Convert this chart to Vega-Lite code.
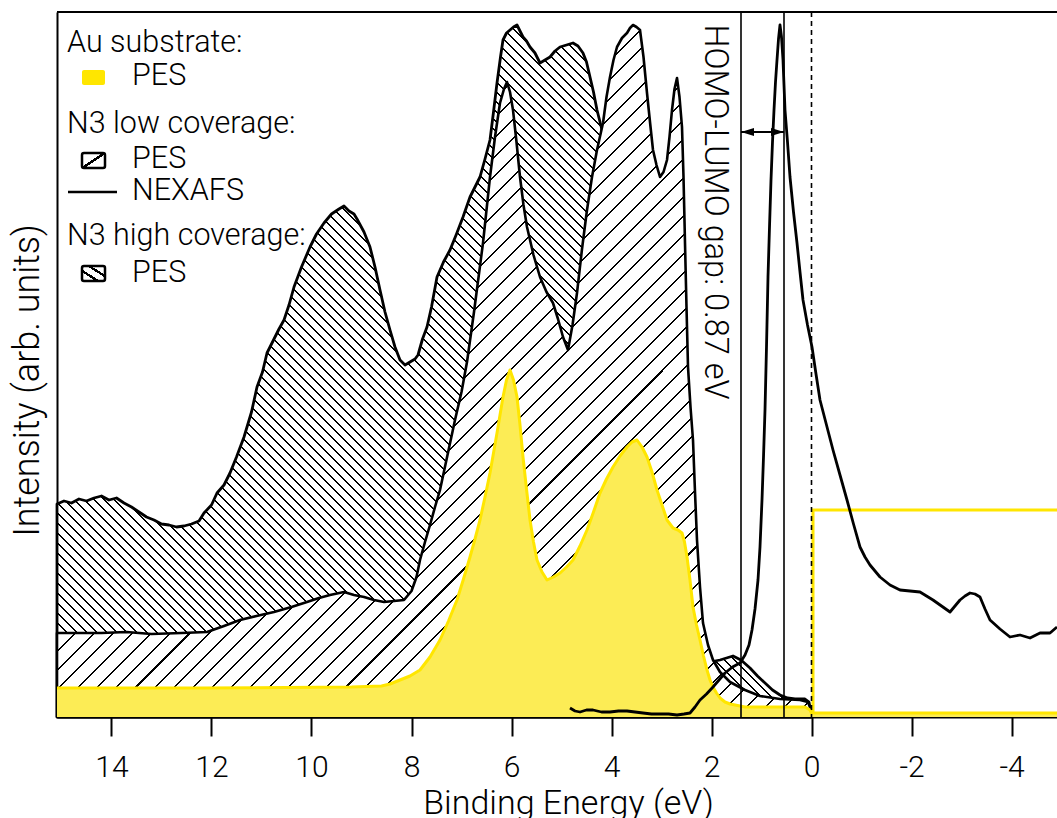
{
"$schema":"https://vega.github.io/schema/vega-lite/v6.json",
"width":1000,"height":705,
"autosize":{"type":"none"},
"padding":{"left":57,"top":12,"right":0,"bottom":101},
"background":"white",
"config":{"view":{"stroke":null},"font":"Roboto","axis":{"zindex":1}},
"datasets":{
"high":[{"E":15.09,"V":213},{"E":14.95,"V":216},{"E":14.8,"V":214},{"E":14.65,"V":218},{"E":14.5,"V":216},{"E":14.35,"V":219},{"E":14.2,"V":221},{"E":14.05,"V":217},{"E":13.9,"V":219},{"E":13.75,"V":214},{"E":13.6,"V":210},{"E":13.45,"V":205},{"E":13.3,"V":200},{"E":13.15,"V":197},{"E":13.0,"V":193},{"E":12.85,"V":192},{"E":12.7,"V":190},{"E":12.55,"V":191},{"E":12.4,"V":193},{"E":12.25,"V":196},{"E":12.15,"V":204},{"E":12.0,"V":212},{"E":11.89,"V":224},{"E":11.75,"V":232},{"E":11.63,"V":244},{"E":11.5,"V":260},{"E":11.35,"V":280},{"E":11.2,"V":305},{"E":11.09,"V":330},{"E":10.98,"V":345},{"E":10.89,"V":364},{"E":10.75,"V":378},{"E":10.65,"V":388},{"E":10.55,"V":397},{"E":10.45,"V":412},{"E":10.35,"V":430},{"E":10.2,"V":450},{"E":10.03,"V":470},{"E":9.9,"V":483},{"E":9.75,"V":494},{"E":9.6,"V":503},{"E":9.45,"V":508},{"E":9.35,"V":511},{"E":9.25,"V":506},{"E":9.15,"V":503},{"E":9.09,"V":498},{"E":8.95,"V":485},{"E":8.83,"V":470},{"E":8.73,"V":450},{"E":8.63,"V":427},{"E":8.53,"V":405},{"E":8.43,"V":387},{"E":8.33,"V":370},{"E":8.23,"V":357},{"E":8.13,"V":352},{"E":8.03,"V":355},{"E":7.93,"V":358},{"E":7.87,"V":362},{"E":7.78,"V":378},{"E":7.69,"V":390},{"E":7.6,"V":410},{"E":7.49,"V":440},{"E":7.36,"V":455},{"E":7.23,"V":467},{"E":7.1,"V":483},{"E":6.97,"V":500},{"E":6.83,"V":520},{"E":6.73,"V":530},{"E":6.63,"V":540},{"E":6.53,"V":558},{"E":6.43,"V":577},{"E":6.36,"V":605},{"E":6.29,"V":634},{"E":6.22,"V":660},{"E":6.17,"V":677},{"E":6.1,"V":684},{"E":6.03,"V":687},{"E":5.96,"V":690},{"E":5.89,"V":692},{"E":5.83,"V":686},{"E":5.77,"V":680},{"E":5.7,"V":676},{"E":5.63,"V":670},{"E":5.53,"V":664},{"E":5.43,"V":654},{"E":5.33,"V":657},{"E":5.23,"V":660},{"E":5.13,"V":666},{"E":5.03,"V":670},{"E":4.9,"V":672},{"E":4.77,"V":674},{"E":4.67,"V":671},{"E":4.57,"V":664},{"E":4.5,"V":655},{"E":4.43,"V":640},{"E":4.36,"V":625},{"E":4.29,"V":607},{"E":4.19,"V":587},{"E":4.03,"V":517},{"E":3.63,"V":417},{"E":3.03,"V":337},{"E":2.63,"V":267},{"E":2.43,"V":167},{"E":2.23,"V":77},{"E":2.03,"V":53},{"E":1.93,"V":56},{"E":1.83,"V":57},{"E":1.7,"V":59},{"E":1.57,"V":61},{"E":1.41,"V":57},{"E":1.23,"V":49},{"E":1.08,"V":41},{"E":0.93,"V":34},{"E":0.78,"V":27},{"E":0.63,"V":22},{"E":0.48,"V":19},{"E":0.33,"V":18},{"E":0.13,"V":18},{"E":0.05,"V":15},{"E":0.0,"V":0}],
"low":[{"E":15.09,"V":84},{"E":14.6,"V":84},{"E":14.2,"V":84},{"E":13.7,"V":85},{"E":13.2,"V":83},{"E":12.6,"V":84},{"E":12.09,"V":85},{"E":11.75,"V":91},{"E":11.43,"V":97},{"E":11.1,"V":101},{"E":10.75,"V":105},{"E":10.4,"V":110},{"E":10.09,"V":115},{"E":9.85,"V":119},{"E":9.63,"V":122},{"E":9.35,"V":125},{"E":9.15,"V":122},{"E":8.95,"V":120},{"E":8.75,"V":117},{"E":8.55,"V":115},{"E":8.35,"V":116},{"E":8.15,"V":117},{"E":8.0,"V":126},{"E":7.9,"V":140},{"E":7.83,"V":157},{"E":7.73,"V":175},{"E":7.63,"V":192},{"E":7.53,"V":210},{"E":7.43,"V":227},{"E":7.28,"V":262},{"E":7.13,"V":297},{"E":7.0,"V":325},{"E":6.89,"V":355},{"E":6.75,"V":405},{"E":6.57,"V":474},{"E":6.43,"V":540},{"E":6.33,"V":580},{"E":6.23,"V":614},{"E":6.15,"V":628},{"E":6.09,"V":635},{"E":6.03,"V":625},{"E":5.97,"V":607},{"E":5.9,"V":575},{"E":5.83,"V":540},{"E":5.76,"V":512},{"E":5.69,"V":490},{"E":5.56,"V":462},{"E":5.43,"V":440},{"E":5.3,"V":425},{"E":5.17,"V":414},{"E":5.07,"V":398},{"E":4.97,"V":380},{"E":4.87,"V":367},{"E":4.78,"V":392},{"E":4.69,"V":424},{"E":4.59,"V":468},{"E":4.49,"V":507},{"E":4.39,"V":540},{"E":4.29,"V":567},{"E":4.17,"V":594},{"E":4.1,"V":620},{"E":4.03,"V":640},{"E":3.96,"V":657},{"E":3.89,"V":670},{"E":3.79,"V":679},{"E":3.69,"V":684},{"E":3.63,"V":689},{"E":3.57,"V":692},{"E":3.5,"V":690},{"E":3.43,"V":687},{"E":3.36,"V":660},{"E":3.29,"V":624},{"E":3.23,"V":595},{"E":3.17,"V":567},{"E":3.1,"V":552},{"E":3.03,"V":540},{"E":2.96,"V":545},{"E":2.89,"V":557},{"E":2.84,"V":580},{"E":2.79,"V":607},{"E":2.74,"V":628},{"E":2.69,"V":639},{"E":2.64,"V":620},{"E":2.59,"V":590},{"E":2.56,"V":540},{"E":2.53,"V":474},{"E":2.5,"V":410},{"E":2.47,"V":350},{"E":2.42,"V":310},{"E":2.37,"V":277},{"E":2.33,"V":225},{"E":2.29,"V":177},{"E":2.23,"V":130},{"E":2.17,"V":94},{"E":2.07,"V":72},{"E":1.97,"V":57},{"E":1.83,"V":45},{"E":1.63,"V":35},{"E":1.33,"V":27},{"E":1.03,"V":21},{"E":0.63,"V":18},{"E":0.23,"V":17},{"E":0.07,"V":15},{"E":0.01,"V":7},{"E":0.0,"V":0}],
"au":[{"E":15.09,"V":29},{"E":12.2,"V":29},{"E":9.2,"V":30},{"E":8.6,"V":31},{"E":8.43,"V":33},{"E":8.23,"V":37},{"E":8.03,"V":41},{"E":7.83,"V":47},{"E":7.63,"V":60},{"E":7.43,"V":77},{"E":7.26,"V":96},{"E":7.09,"V":117},{"E":6.96,"V":138},{"E":6.83,"V":160},{"E":6.73,"V":178},{"E":6.63,"V":197},{"E":6.53,"V":220},{"E":6.43,"V":244},{"E":6.36,"V":264},{"E":6.29,"V":284},{"E":6.23,"V":302},{"E":6.17,"V":320},{"E":6.1,"V":337},{"E":6.03,"V":347},{"E":5.96,"V":337},{"E":5.89,"V":320},{"E":5.83,"V":292},{"E":5.77,"V":260},{"E":5.7,"V":228},{"E":5.63,"V":197},{"E":5.56,"V":175},{"E":5.49,"V":157},{"E":5.39,"V":145},{"E":5.29,"V":137},{"E":5.16,"V":140},{"E":5.03,"V":144},{"E":4.9,"V":150},{"E":4.77,"V":157},{"E":4.63,"V":171},{"E":4.49,"V":187},{"E":4.36,"V":205},{"E":4.23,"V":224},{"E":4.1,"V":238},{"E":3.97,"V":250},{"E":3.83,"V":261},{"E":3.69,"V":270},{"E":3.59,"V":275},{"E":3.49,"V":277},{"E":3.39,"V":270},{"E":3.29,"V":260},{"E":3.19,"V":245},{"E":3.09,"V":227},{"E":2.99,"V":212},{"E":2.89,"V":197},{"E":2.77,"V":189},{"E":2.67,"V":187},{"E":2.59,"V":184},{"E":2.54,"V":175},{"E":2.49,"V":160},{"E":2.43,"V":137},{"E":2.37,"V":110},{"E":2.3,"V":92},{"E":2.23,"V":77},{"E":2.16,"V":61},{"E":2.09,"V":47},{"E":2.03,"V":37},{"E":1.97,"V":30},{"E":1.9,"V":24},{"E":1.83,"V":19},{"E":1.73,"V":15},{"E":1.63,"V":13},{"E":1.33,"V":10},{"E":0.63,"V":10},{"E":0.13,"V":10},{"E":0.03,"V":7},{"E":0.0,"V":4},{"E":-4.91,"V":4}],
"step":[{"E":-0.03,"V":4,"o":1},{"E":-0.03,"V":207,"o":2},{"E":-4.91,"V":207,"o":3}],
"nexafs":[{"E":4.83,"V":9},{"E":4.73,"V":6},{"E":4.63,"V":5},{"E":4.5,"V":7},{"E":4.37,"V":7},{"E":4.2,"V":5},{"E":4.03,"V":5},{"E":3.86,"V":6},{"E":3.69,"V":6},{"E":3.53,"V":5},{"E":3.37,"V":4},{"E":3.2,"V":3},{"E":3.03,"V":3},{"E":2.86,"V":3},{"E":2.69,"V":2},{"E":2.55,"V":3},{"E":2.43,"V":4},{"E":2.33,"V":10},{"E":2.23,"V":17},{"E":2.1,"V":23},{"E":1.97,"V":30},{"E":1.85,"V":37},{"E":1.73,"V":44},{"E":1.58,"V":50},{"E":1.43,"V":54},{"E":1.33,"V":62},{"E":1.25,"V":72},{"E":1.19,"V":87},{"E":1.13,"V":108},{"E":1.07,"V":137},{"E":1.03,"V":170},{"E":0.99,"V":217},{"E":0.96,"V":260},{"E":0.93,"V":307},{"E":0.9,"V":370},{"E":0.87,"V":440},{"E":0.84,"V":490},{"E":0.81,"V":537},{"E":0.78,"V":575},{"E":0.75,"V":607},{"E":0.72,"V":635},{"E":0.69,"V":657},{"E":0.66,"V":678},{"E":0.63,"V":692},{"E":0.6,"V":680},{"E":0.57,"V":657},{"E":0.53,"V":607},{"E":0.48,"V":575},{"E":0.43,"V":540},{"E":0.36,"V":505},{"E":0.29,"V":474},{"E":0.23,"V":445},{"E":0.17,"V":417},{"E":0.08,"V":392},{"E":-0.01,"V":370},{"E":-0.09,"V":343},{"E":-0.17,"V":317},{"E":-0.3,"V":292},{"E":-0.43,"V":267},{"E":-0.57,"V":242},{"E":-0.71,"V":217},{"E":-0.84,"V":193},{"E":-0.97,"V":170},{"E":-1.07,"V":160},{"E":-1.17,"V":152},{"E":-1.27,"V":146},{"E":-1.37,"V":140},{"E":-1.57,"V":132},{"E":-1.77,"V":127},{"E":-1.97,"V":126},{"E":-2.17,"V":125},{"E":-2.3,"V":121},{"E":-2.43,"V":117},{"E":-2.6,"V":111},{"E":-2.77,"V":105},{"E":-2.87,"V":111},{"E":-2.97,"V":117},{"E":-3.07,"V":121},{"E":-3.17,"V":124},{"E":-3.27,"V":123},{"E":-3.37,"V":120},{"E":-3.47,"V":108},{"E":-3.57,"V":97},{"E":-3.77,"V":88},{"E":-3.97,"V":80},{"E":-4.17,"V":82},{"E":-4.37,"V":79},{"E":-4.57,"V":84},{"E":-4.77,"V":84},{"E":-4.91,"V":90}],
"vlines":[{"E":1.41},{"E":0.55}],
"fermi":[{"E":0}],
"arrow":[{"E":1.41,"E2":0.55,"V":585}],
"headL":[{"E":1.41,"V":585}],
"headR":[{"E":0.55,"V":585}],
"note":[{"E":2.13,"V":505,"t":"HOMO-LUMO gap: 0.87 eV"}],
"legend":[{"E":14.89,"V":665,"t":"Au substrate:"},{"E":13.59,"V":632,"t":"PES"},{"E":14.89,"V":584,"t":"N3 low coverage:"},{"E":13.59,"V":549,"t":"PES"},{"E":13.59,"V":517,"t":"NEXAFS"},{"E":14.89,"V":472,"t":"N3 high coverage:"},{"E":13.59,"V":435,"t":"PES"}],
"swAu":[{"E":14.59,"E2":14.13,"V":632,"V2":647}],
"swLow":[{"E":14.59,"E2":14.13,"V":549,"V2":564}],
"swHigh":[{"E":14.59,"E2":14.13,"V":436,"V2":451}],
"legLine":[{"E":14.87,"E2":13.89,"V":525}],
"frame":[{"V":705}]
},
"layer":[
{"data":{"name":"high"},
 "mark":{"type":"area","stroke":"black","strokeWidth":2.8,"strokeJoin":"round",
  "fill":{"gradient":"linear","x1":0,"y1":1,"x2":1.0412,"y2":0.0451,"stops":[
{"offset":0,"color":"#fff"},
{"offset":0.0580,"color":"#fff"},{"offset":0.0580,"color":"#000"},{"offset":0.0593,"color":"#000"},{"offset":0.0593,"color":"#fff"},
{"offset":0.0649,"color":"#fff"},{"offset":0.0649,"color":"#000"},{"offset":0.0662,"color":"#000"},{"offset":0.0662,"color":"#fff"},
{"offset":0.0718,"color":"#fff"},{"offset":0.0718,"color":"#000"},{"offset":0.0731,"color":"#000"},{"offset":0.0731,"color":"#fff"},
{"offset":0.0787,"color":"#fff"},{"offset":0.0787,"color":"#000"},{"offset":0.0800,"color":"#000"},{"offset":0.0800,"color":"#fff"},
{"offset":0.0856,"color":"#fff"},{"offset":0.0856,"color":"#000"},{"offset":0.0869,"color":"#000"},{"offset":0.0869,"color":"#fff"},
{"offset":0.0926,"color":"#fff"},{"offset":0.0926,"color":"#000"},{"offset":0.0939,"color":"#000"},{"offset":0.0939,"color":"#fff"},
{"offset":0.0995,"color":"#fff"},{"offset":0.0995,"color":"#000"},{"offset":0.1008,"color":"#000"},{"offset":0.1008,"color":"#fff"},
{"offset":0.1064,"color":"#fff"},{"offset":0.1064,"color":"#000"},{"offset":0.1077,"color":"#000"},{"offset":0.1077,"color":"#fff"},
{"offset":0.1133,"color":"#fff"},{"offset":0.1133,"color":"#000"},{"offset":0.1146,"color":"#000"},{"offset":0.1146,"color":"#fff"},
{"offset":0.1202,"color":"#fff"},{"offset":0.1202,"color":"#000"},{"offset":0.1215,"color":"#000"},{"offset":0.1215,"color":"#fff"},
{"offset":0.1271,"color":"#fff"},{"offset":0.1271,"color":"#000"},{"offset":0.1284,"color":"#000"},{"offset":0.1284,"color":"#fff"},
{"offset":0.1340,"color":"#fff"},{"offset":0.1340,"color":"#000"},{"offset":0.1353,"color":"#000"},{"offset":0.1353,"color":"#fff"},
{"offset":0.1409,"color":"#fff"},{"offset":0.1409,"color":"#000"},{"offset":0.1422,"color":"#000"},{"offset":0.1422,"color":"#fff"},
{"offset":0.1478,"color":"#fff"},{"offset":0.1478,"color":"#000"},{"offset":0.1491,"color":"#000"},{"offset":0.1491,"color":"#fff"},
{"offset":0.1547,"color":"#fff"},{"offset":0.1547,"color":"#000"},{"offset":0.1560,"color":"#000"},{"offset":0.1560,"color":"#fff"},
{"offset":0.1617,"color":"#fff"},{"offset":0.1617,"color":"#000"},{"offset":0.1630,"color":"#000"},{"offset":0.1630,"color":"#fff"},
{"offset":0.1686,"color":"#fff"},{"offset":0.1686,"color":"#000"},{"offset":0.1699,"color":"#000"},{"offset":0.1699,"color":"#fff"},
{"offset":0.1755,"color":"#fff"},{"offset":0.1755,"color":"#000"},{"offset":0.1768,"color":"#000"},{"offset":0.1768,"color":"#fff"},
{"offset":0.1824,"color":"#fff"},{"offset":0.1824,"color":"#000"},{"offset":0.1837,"color":"#000"},{"offset":0.1837,"color":"#fff"},
{"offset":0.1893,"color":"#fff"},{"offset":0.1893,"color":"#000"},{"offset":0.1906,"color":"#000"},{"offset":0.1906,"color":"#fff"},
{"offset":0.1962,"color":"#fff"},{"offset":0.1962,"color":"#000"},{"offset":0.1975,"color":"#000"},{"offset":0.1975,"color":"#fff"},
{"offset":0.2031,"color":"#fff"},{"offset":0.2031,"color":"#000"},{"offset":0.2044,"color":"#000"},{"offset":0.2044,"color":"#fff"},
{"offset":0.2100,"color":"#fff"},{"offset":0.2100,"color":"#000"},{"offset":0.2113,"color":"#000"},{"offset":0.2113,"color":"#fff"},
{"offset":0.2169,"color":"#fff"},{"offset":0.2169,"color":"#000"},{"offset":0.2182,"color":"#000"},{"offset":0.2182,"color":"#fff"},
{"offset":0.2238,"color":"#fff"},{"offset":0.2238,"color":"#000"},{"offset":0.2251,"color":"#000"},{"offset":0.2251,"color":"#fff"},
{"offset":0.2308,"color":"#fff"},{"offset":0.2308,"color":"#000"},{"offset":0.2321,"color":"#000"},{"offset":0.2321,"color":"#fff"},
{"offset":0.2377,"color":"#fff"},{"offset":0.2377,"color":"#000"},{"offset":0.2390,"color":"#000"},{"offset":0.2390,"color":"#fff"},
{"offset":0.2446,"color":"#fff"},{"offset":0.2446,"color":"#000"},{"offset":0.2459,"color":"#000"},{"offset":0.2459,"color":"#fff"},
{"offset":0.2515,"color":"#fff"},{"offset":0.2515,"color":"#000"},{"offset":0.2528,"color":"#000"},{"offset":0.2528,"color":"#fff"},
{"offset":0.2584,"color":"#fff"},{"offset":0.2584,"color":"#000"},{"offset":0.2597,"color":"#000"},{"offset":0.2597,"color":"#fff"},
{"offset":0.2653,"color":"#fff"},{"offset":0.2653,"color":"#000"},{"offset":0.2666,"color":"#000"},{"offset":0.2666,"color":"#fff"},
{"offset":0.2722,"color":"#fff"},{"offset":0.2722,"color":"#000"},{"offset":0.2735,"color":"#000"},{"offset":0.2735,"color":"#fff"},
{"offset":0.2791,"color":"#fff"},{"offset":0.2791,"color":"#000"},{"offset":0.2804,"color":"#000"},{"offset":0.2804,"color":"#fff"},
{"offset":0.2860,"color":"#fff"},{"offset":0.2860,"color":"#000"},{"offset":0.2873,"color":"#000"},{"offset":0.2873,"color":"#fff"},
{"offset":0.2929,"color":"#fff"},{"offset":0.2929,"color":"#000"},{"offset":0.2942,"color":"#000"},{"offset":0.2942,"color":"#fff"},
{"offset":0.2999,"color":"#fff"},{"offset":0.2999,"color":"#000"},{"offset":0.3012,"color":"#000"},{"offset":0.3012,"color":"#fff"},
{"offset":0.3068,"color":"#fff"},{"offset":0.3068,"color":"#000"},{"offset":0.3081,"color":"#000"},{"offset":0.3081,"color":"#fff"},
{"offset":0.3137,"color":"#fff"},{"offset":0.3137,"color":"#000"},{"offset":0.3150,"color":"#000"},{"offset":0.3150,"color":"#fff"},
{"offset":0.3206,"color":"#fff"},{"offset":0.3206,"color":"#000"},{"offset":0.3219,"color":"#000"},{"offset":0.3219,"color":"#fff"},
{"offset":0.3275,"color":"#fff"},{"offset":0.3275,"color":"#000"},{"offset":0.3288,"color":"#000"},{"offset":0.3288,"color":"#fff"},
{"offset":0.3344,"color":"#fff"},{"offset":0.3344,"color":"#000"},{"offset":0.3357,"color":"#000"},{"offset":0.3357,"color":"#fff"},
{"offset":0.3413,"color":"#fff"},{"offset":0.3413,"color":"#000"},{"offset":0.3426,"color":"#000"},{"offset":0.3426,"color":"#fff"},
{"offset":0.3482,"color":"#fff"},{"offset":0.3482,"color":"#000"},{"offset":0.3495,"color":"#000"},{"offset":0.3495,"color":"#fff"},
{"offset":0.3551,"color":"#fff"},{"offset":0.3551,"color":"#000"},{"offset":0.3564,"color":"#000"},{"offset":0.3564,"color":"#fff"},
{"offset":0.3620,"color":"#fff"},{"offset":0.3620,"color":"#000"},{"offset":0.3633,"color":"#000"},{"offset":0.3633,"color":"#fff"},
{"offset":0.3690,"color":"#fff"},{"offset":0.3690,"color":"#000"},{"offset":0.3703,"color":"#000"},{"offset":0.3703,"color":"#fff"},
{"offset":0.3759,"color":"#fff"},{"offset":0.3759,"color":"#000"},{"offset":0.3772,"color":"#000"},{"offset":0.3772,"color":"#fff"},
{"offset":0.3828,"color":"#fff"},{"offset":0.3828,"color":"#000"},{"offset":0.3841,"color":"#000"},{"offset":0.3841,"color":"#fff"},
{"offset":0.3897,"color":"#fff"},{"offset":0.3897,"color":"#000"},{"offset":0.3910,"color":"#000"},{"offset":0.3910,"color":"#fff"},
{"offset":0.3966,"color":"#fff"},{"offset":0.3966,"color":"#000"},{"offset":0.3979,"color":"#000"},{"offset":0.3979,"color":"#fff"},
{"offset":0.4035,"color":"#fff"},{"offset":0.4035,"color":"#000"},{"offset":0.4048,"color":"#000"},{"offset":0.4048,"color":"#fff"},
{"offset":0.4104,"color":"#fff"},{"offset":0.4104,"color":"#000"},{"offset":0.4117,"color":"#000"},{"offset":0.4117,"color":"#fff"},
{"offset":0.4173,"color":"#fff"},{"offset":0.4173,"color":"#000"},{"offset":0.4186,"color":"#000"},{"offset":0.4186,"color":"#fff"},
{"offset":0.4242,"color":"#fff"},{"offset":0.4242,"color":"#000"},{"offset":0.4255,"color":"#000"},{"offset":0.4255,"color":"#fff"},
{"offset":0.4311,"color":"#fff"},{"offset":0.4311,"color":"#000"},{"offset":0.4324,"color":"#000"},{"offset":0.4324,"color":"#fff"},
{"offset":0.4381,"color":"#fff"},{"offset":0.4381,"color":"#000"},{"offset":0.4394,"color":"#000"},{"offset":0.4394,"color":"#fff"},
{"offset":0.4450,"color":"#fff"},{"offset":0.4450,"color":"#000"},{"offset":0.4463,"color":"#000"},{"offset":0.4463,"color":"#fff"},
{"offset":0.4519,"color":"#fff"},{"offset":0.4519,"color":"#000"},{"offset":0.4532,"color":"#000"},{"offset":0.4532,"color":"#fff"},
{"offset":0.4588,"color":"#fff"},{"offset":0.4588,"color":"#000"},{"offset":0.4601,"color":"#000"},{"offset":0.4601,"color":"#fff"},
{"offset":0.4657,"color":"#fff"},{"offset":0.4657,"color":"#000"},{"offset":0.4670,"color":"#000"},{"offset":0.4670,"color":"#fff"},
{"offset":0.4726,"color":"#fff"},{"offset":0.4726,"color":"#000"},{"offset":0.4739,"color":"#000"},{"offset":0.4739,"color":"#fff"},
{"offset":0.4795,"color":"#fff"},{"offset":0.4795,"color":"#000"},{"offset":0.4808,"color":"#000"},{"offset":0.4808,"color":"#fff"},
{"offset":0.4864,"color":"#fff"},{"offset":0.4864,"color":"#000"},{"offset":0.4877,"color":"#000"},{"offset":0.4877,"color":"#fff"},
{"offset":0.4933,"color":"#fff"},{"offset":0.4933,"color":"#000"},{"offset":0.4946,"color":"#000"},{"offset":0.4946,"color":"#fff"},
{"offset":0.5002,"color":"#fff"},{"offset":0.5002,"color":"#000"},{"offset":0.5015,"color":"#000"},{"offset":0.5015,"color":"#fff"},
{"offset":0.5072,"color":"#fff"},{"offset":0.5072,"color":"#000"},{"offset":0.5085,"color":"#000"},{"offset":0.5085,"color":"#fff"},
{"offset":0.5141,"color":"#fff"},{"offset":0.5141,"color":"#000"},{"offset":0.5154,"color":"#000"},{"offset":0.5154,"color":"#fff"},
{"offset":0.5210,"color":"#fff"},{"offset":0.5210,"color":"#000"},{"offset":0.5223,"color":"#000"},{"offset":0.5223,"color":"#fff"},
{"offset":0.5279,"color":"#fff"},{"offset":0.5279,"color":"#000"},{"offset":0.5292,"color":"#000"},{"offset":0.5292,"color":"#fff"},
{"offset":0.5348,"color":"#fff"},{"offset":0.5348,"color":"#000"},{"offset":0.5361,"color":"#000"},{"offset":0.5361,"color":"#fff"},
{"offset":0.5417,"color":"#fff"},{"offset":0.5417,"color":"#000"},{"offset":0.5430,"color":"#000"},{"offset":0.5430,"color":"#fff"},
{"offset":0.5486,"color":"#fff"},{"offset":0.5486,"color":"#000"},{"offset":0.5499,"color":"#000"},{"offset":0.5499,"color":"#fff"},
{"offset":0.5555,"color":"#fff"},{"offset":0.5555,"color":"#000"},{"offset":0.5568,"color":"#000"},{"offset":0.5568,"color":"#fff"},
{"offset":0.5624,"color":"#fff"},{"offset":0.5624,"color":"#000"},{"offset":0.5637,"color":"#000"},{"offset":0.5637,"color":"#fff"},
{"offset":0.5693,"color":"#fff"},{"offset":0.5693,"color":"#000"},{"offset":0.5706,"color":"#000"},{"offset":0.5706,"color":"#fff"},
{"offset":0.5763,"color":"#fff"},{"offset":0.5763,"color":"#000"},{"offset":0.5776,"color":"#000"},{"offset":0.5776,"color":"#fff"},
{"offset":0.5832,"color":"#fff"},{"offset":0.5832,"color":"#000"},{"offset":0.5845,"color":"#000"},{"offset":0.5845,"color":"#fff"},
{"offset":0.5901,"color":"#fff"},{"offset":0.5901,"color":"#000"},{"offset":0.5914,"color":"#000"},{"offset":0.5914,"color":"#fff"},
{"offset":0.5970,"color":"#fff"},{"offset":0.5970,"color":"#000"},{"offset":0.5983,"color":"#000"},{"offset":0.5983,"color":"#fff"},
{"offset":0.6039,"color":"#fff"},{"offset":0.6039,"color":"#000"},{"offset":0.6052,"color":"#000"},{"offset":0.6052,"color":"#fff"},
{"offset":0.6108,"color":"#fff"},{"offset":0.6108,"color":"#000"},{"offset":0.6121,"color":"#000"},{"offset":0.6121,"color":"#fff"},
{"offset":0.6177,"color":"#fff"},{"offset":0.6177,"color":"#000"},{"offset":0.6190,"color":"#000"},{"offset":0.6190,"color":"#fff"},
{"offset":0.6246,"color":"#fff"},{"offset":0.6246,"color":"#000"},{"offset":0.6259,"color":"#000"},{"offset":0.6259,"color":"#fff"},
{"offset":0.6315,"color":"#fff"},{"offset":0.6315,"color":"#000"},{"offset":0.6328,"color":"#000"},{"offset":0.6328,"color":"#fff"},
{"offset":0.6384,"color":"#fff"},{"offset":0.6384,"color":"#000"},{"offset":0.6397,"color":"#000"},{"offset":0.6397,"color":"#fff"},
{"offset":0.6454,"color":"#fff"},{"offset":0.6454,"color":"#000"},{"offset":0.6467,"color":"#000"},{"offset":0.6467,"color":"#fff"},
{"offset":0.6523,"color":"#fff"},{"offset":0.6523,"color":"#000"},{"offset":0.6536,"color":"#000"},{"offset":0.6536,"color":"#fff"},
{"offset":0.6592,"color":"#fff"},{"offset":0.6592,"color":"#000"},{"offset":0.6605,"color":"#000"},{"offset":0.6605,"color":"#fff"},
{"offset":0.6661,"color":"#fff"},{"offset":0.6661,"color":"#000"},{"offset":0.6674,"color":"#000"},{"offset":0.6674,"color":"#fff"},
{"offset":0.6730,"color":"#fff"},{"offset":0.6730,"color":"#000"},{"offset":0.6743,"color":"#000"},{"offset":0.6743,"color":"#fff"},
{"offset":0.6799,"color":"#fff"},{"offset":0.6799,"color":"#000"},{"offset":0.6812,"color":"#000"},{"offset":0.6812,"color":"#fff"},
{"offset":0.6868,"color":"#fff"},{"offset":0.6868,"color":"#000"},{"offset":0.6881,"color":"#000"},{"offset":0.6881,"color":"#fff"},
{"offset":0.6937,"color":"#fff"},{"offset":0.6937,"color":"#000"},{"offset":0.6950,"color":"#000"},{"offset":0.6950,"color":"#fff"},
{"offset":0.7006,"color":"#fff"},{"offset":0.7006,"color":"#000"},{"offset":0.7019,"color":"#000"},{"offset":0.7019,"color":"#fff"},
{"offset":0.7075,"color":"#fff"},{"offset":0.7075,"color":"#000"},{"offset":0.7088,"color":"#000"},{"offset":0.7088,"color":"#fff"},
{"offset":0.7145,"color":"#fff"},{"offset":0.7145,"color":"#000"},{"offset":0.7158,"color":"#000"},{"offset":0.7158,"color":"#fff"},
{"offset":0.7214,"color":"#fff"},{"offset":0.7214,"color":"#000"},{"offset":0.7227,"color":"#000"},{"offset":0.7227,"color":"#fff"},
{"offset":0.7283,"color":"#fff"},{"offset":0.7283,"color":"#000"},{"offset":0.7296,"color":"#000"},{"offset":0.7296,"color":"#fff"},
{"offset":0.7352,"color":"#fff"},{"offset":0.7352,"color":"#000"},{"offset":0.7365,"color":"#000"},{"offset":0.7365,"color":"#fff"},
{"offset":0.7421,"color":"#fff"},{"offset":0.7421,"color":"#000"},{"offset":0.7434,"color":"#000"},{"offset":0.7434,"color":"#fff"},
{"offset":0.7490,"color":"#fff"},{"offset":0.7490,"color":"#000"},{"offset":0.7503,"color":"#000"},{"offset":0.7503,"color":"#fff"},
{"offset":0.7559,"color":"#fff"},{"offset":0.7559,"color":"#000"},{"offset":0.7572,"color":"#000"},{"offset":0.7572,"color":"#fff"},
{"offset":0.7628,"color":"#fff"},{"offset":0.7628,"color":"#000"},{"offset":0.7641,"color":"#000"},{"offset":0.7641,"color":"#fff"},
{"offset":0.7697,"color":"#fff"},{"offset":0.7697,"color":"#000"},{"offset":0.7710,"color":"#000"},{"offset":0.7710,"color":"#fff"},
{"offset":0.7766,"color":"#fff"},{"offset":0.7766,"color":"#000"},{"offset":0.7779,"color":"#000"},{"offset":0.7779,"color":"#fff"},
{"offset":0.7836,"color":"#fff"},{"offset":0.7836,"color":"#000"},{"offset":0.7849,"color":"#000"},{"offset":0.7849,"color":"#fff"},
{"offset":0.7905,"color":"#fff"},{"offset":0.7905,"color":"#000"},{"offset":0.7918,"color":"#000"},{"offset":0.7918,"color":"#fff"},
{"offset":0.7974,"color":"#fff"},{"offset":0.7974,"color":"#000"},{"offset":0.7987,"color":"#000"},{"offset":0.7987,"color":"#fff"},
{"offset":0.8043,"color":"#fff"},{"offset":0.8043,"color":"#000"},{"offset":0.8056,"color":"#000"},{"offset":0.8056,"color":"#fff"},
{"offset":0.8112,"color":"#fff"},{"offset":0.8112,"color":"#000"},{"offset":0.8125,"color":"#000"},{"offset":0.8125,"color":"#fff"},
{"offset":0.8181,"color":"#fff"},{"offset":0.8181,"color":"#000"},{"offset":0.8194,"color":"#000"},{"offset":0.8194,"color":"#fff"},
{"offset":0.8250,"color":"#fff"},{"offset":0.8250,"color":"#000"},{"offset":0.8263,"color":"#000"},{"offset":0.8263,"color":"#fff"},
{"offset":0.8319,"color":"#fff"},{"offset":0.8319,"color":"#000"},{"offset":0.8332,"color":"#000"},{"offset":0.8332,"color":"#fff"},
{"offset":1,"color":"#fff"}]}},
 "encoding":{
  "x":{"field":"E","type":"quantitative","scale":{"domain":[-4.91,15.09],"reverse":true,"nice":false,"zero":false},
   "axis":{"title":"Binding Energy (eV)","values":[14,12,10,8,6,4,2,0,-2,-4],"grid":false,"tickSize":19,"tickWidth":2,"tickColor":"black","domainColor":"black","domainWidth":2,"labelFontSize":30,"labelFontWeight":300,"labelColor":"black","labelPadding":16,"labelFont":"Roboto","labelFlush":false,"labelOverlap":false,"labelExpr":"datum.value < 0 ? '-' + abs(datum.value) : '' + datum.value","titleFontSize":34,"titleFontWeight":300,"titleColor":"black","titleFont":"Roboto","titleX":511,"titleY":96,"titleAlign":"center","titleBaseline":"alphabetic"}},
  "y":{"field":"V","type":"quantitative","scale":{"domain":[0,705],"nice":false},
   "axis":{"title":"Intensity (arb. units)","ticks":false,"labels":false,"grid":false,"domainColor":"black","domainWidth":2,"titleFontSize":36,"titleFontWeight":300,"titleColor":"black","titleFont":"Roboto","titleX":-30,"titleY":368,"titleAngle":-90,"titleAlign":"center","titleBaseline":"middle"}}}},
{"data":{"name":"low"},
 "mark":{"type":"area","stroke":"black","strokeWidth":2.6,"strokeJoin":"round",
  "fill":{"gradient":"linear","x1":0,"y1":0,"x2":1.0412,"y2":0.9549,"stops":[
{"offset":0,"color":"#fff"},
{"offset":0.3400,"color":"#fff"},{"offset":0.3400,"color":"#000"},{"offset":0.3414,"color":"#000"},{"offset":0.3414,"color":"#fff"},
{"offset":0.3532,"color":"#fff"},{"offset":0.3532,"color":"#000"},{"offset":0.3546,"color":"#000"},{"offset":0.3546,"color":"#fff"},
{"offset":0.3664,"color":"#fff"},{"offset":0.3664,"color":"#000"},{"offset":0.3678,"color":"#000"},{"offset":0.3678,"color":"#fff"},
{"offset":0.3796,"color":"#fff"},{"offset":0.3796,"color":"#000"},{"offset":0.3810,"color":"#000"},{"offset":0.3810,"color":"#fff"},
{"offset":0.3928,"color":"#fff"},{"offset":0.3928,"color":"#000"},{"offset":0.3942,"color":"#000"},{"offset":0.3942,"color":"#fff"},
{"offset":0.4060,"color":"#fff"},{"offset":0.4060,"color":"#000"},{"offset":0.4074,"color":"#000"},{"offset":0.4074,"color":"#fff"},
{"offset":0.4192,"color":"#fff"},{"offset":0.4192,"color":"#000"},{"offset":0.4206,"color":"#000"},{"offset":0.4206,"color":"#fff"},
{"offset":0.4324,"color":"#fff"},{"offset":0.4324,"color":"#000"},{"offset":0.4338,"color":"#000"},{"offset":0.4338,"color":"#fff"},
{"offset":0.4456,"color":"#fff"},{"offset":0.4456,"color":"#000"},{"offset":0.4470,"color":"#000"},{"offset":0.4470,"color":"#fff"},
{"offset":0.4588,"color":"#fff"},{"offset":0.4588,"color":"#000"},{"offset":0.4602,"color":"#000"},{"offset":0.4602,"color":"#fff"},
{"offset":0.4720,"color":"#fff"},{"offset":0.4720,"color":"#000"},{"offset":0.4734,"color":"#000"},{"offset":0.4734,"color":"#fff"},
{"offset":0.4852,"color":"#fff"},{"offset":0.4852,"color":"#000"},{"offset":0.4866,"color":"#000"},{"offset":0.4866,"color":"#fff"},
{"offset":0.4984,"color":"#fff"},{"offset":0.4984,"color":"#000"},{"offset":0.4998,"color":"#000"},{"offset":0.4998,"color":"#fff"},
{"offset":0.5116,"color":"#fff"},{"offset":0.5116,"color":"#000"},{"offset":0.5130,"color":"#000"},{"offset":0.5130,"color":"#fff"},
{"offset":0.5248,"color":"#fff"},{"offset":0.5248,"color":"#000"},{"offset":0.5262,"color":"#000"},{"offset":0.5262,"color":"#fff"},
{"offset":0.5380,"color":"#fff"},{"offset":0.5380,"color":"#000"},{"offset":0.5394,"color":"#000"},{"offset":0.5394,"color":"#fff"},
{"offset":0.5512,"color":"#fff"},{"offset":0.5512,"color":"#000"},{"offset":0.5526,"color":"#000"},{"offset":0.5526,"color":"#fff"},
{"offset":0.5644,"color":"#fff"},{"offset":0.5644,"color":"#000"},{"offset":0.5658,"color":"#000"},{"offset":0.5658,"color":"#fff"},
{"offset":0.5776,"color":"#fff"},{"offset":0.5776,"color":"#000"},{"offset":0.5790,"color":"#000"},{"offset":0.5790,"color":"#fff"},
{"offset":0.5908,"color":"#fff"},{"offset":0.5908,"color":"#000"},{"offset":0.5922,"color":"#000"},{"offset":0.5922,"color":"#fff"},
{"offset":0.6040,"color":"#fff"},{"offset":0.6040,"color":"#000"},{"offset":0.6054,"color":"#000"},{"offset":0.6054,"color":"#fff"},
{"offset":0.6172,"color":"#fff"},{"offset":0.6172,"color":"#000"},{"offset":0.6186,"color":"#000"},{"offset":0.6186,"color":"#fff"},
{"offset":0.6304,"color":"#fff"},{"offset":0.6304,"color":"#000"},{"offset":0.6318,"color":"#000"},{"offset":0.6318,"color":"#fff"},
{"offset":0.6436,"color":"#fff"},{"offset":0.6436,"color":"#000"},{"offset":0.6450,"color":"#000"},{"offset":0.6450,"color":"#fff"},
{"offset":0.6568,"color":"#fff"},{"offset":0.6568,"color":"#000"},{"offset":0.6582,"color":"#000"},{"offset":0.6582,"color":"#fff"},
{"offset":0.6700,"color":"#fff"},{"offset":0.6700,"color":"#000"},{"offset":0.6714,"color":"#000"},{"offset":0.6714,"color":"#fff"},
{"offset":0.6832,"color":"#fff"},{"offset":0.6832,"color":"#000"},{"offset":0.6846,"color":"#000"},{"offset":0.6846,"color":"#fff"},
{"offset":0.6964,"color":"#fff"},{"offset":0.6964,"color":"#000"},{"offset":0.6978,"color":"#000"},{"offset":0.6978,"color":"#fff"},
{"offset":0.7096,"color":"#fff"},{"offset":0.7096,"color":"#000"},{"offset":0.7110,"color":"#000"},{"offset":0.7110,"color":"#fff"},
{"offset":0.7228,"color":"#fff"},{"offset":0.7228,"color":"#000"},{"offset":0.7242,"color":"#000"},{"offset":0.7242,"color":"#fff"},
{"offset":0.7360,"color":"#fff"},{"offset":0.7360,"color":"#000"},{"offset":0.7374,"color":"#000"},{"offset":0.7374,"color":"#fff"},
{"offset":0.7492,"color":"#fff"},{"offset":0.7492,"color":"#000"},{"offset":0.7506,"color":"#000"},{"offset":0.7506,"color":"#fff"},
{"offset":0.7624,"color":"#fff"},{"offset":0.7624,"color":"#000"},{"offset":0.7638,"color":"#000"},{"offset":0.7638,"color":"#fff"},
{"offset":0.7756,"color":"#fff"},{"offset":0.7756,"color":"#000"},{"offset":0.7770,"color":"#000"},{"offset":0.7770,"color":"#fff"},
{"offset":0.7888,"color":"#fff"},{"offset":0.7888,"color":"#000"},{"offset":0.7902,"color":"#000"},{"offset":0.7902,"color":"#fff"},
{"offset":0.8020,"color":"#fff"},{"offset":0.8020,"color":"#000"},{"offset":0.8034,"color":"#000"},{"offset":0.8034,"color":"#fff"},
{"offset":0.8152,"color":"#fff"},{"offset":0.8152,"color":"#000"},{"offset":0.8166,"color":"#000"},{"offset":0.8166,"color":"#fff"},
{"offset":0.8284,"color":"#fff"},{"offset":0.8284,"color":"#000"},{"offset":0.8298,"color":"#000"},{"offset":0.8298,"color":"#fff"},
{"offset":0.8416,"color":"#fff"},{"offset":0.8416,"color":"#000"},{"offset":0.8430,"color":"#000"},{"offset":0.8430,"color":"#fff"},
{"offset":0.8548,"color":"#fff"},{"offset":0.8548,"color":"#000"},{"offset":0.8562,"color":"#000"},{"offset":0.8562,"color":"#fff"},
{"offset":0.8680,"color":"#fff"},{"offset":0.8680,"color":"#000"},{"offset":0.8694,"color":"#000"},{"offset":0.8694,"color":"#fff"},
{"offset":0.8812,"color":"#fff"},{"offset":0.8812,"color":"#000"},{"offset":0.8826,"color":"#000"},{"offset":0.8826,"color":"#fff"},
{"offset":0.8944,"color":"#fff"},{"offset":0.8944,"color":"#000"},{"offset":0.8958,"color":"#000"},{"offset":0.8958,"color":"#fff"},
{"offset":0.9076,"color":"#fff"},{"offset":0.9076,"color":"#000"},{"offset":0.9090,"color":"#000"},{"offset":0.9090,"color":"#fff"},
{"offset":0.9208,"color":"#fff"},{"offset":0.9208,"color":"#000"},{"offset":0.9222,"color":"#000"},{"offset":0.9222,"color":"#fff"},
{"offset":0.9340,"color":"#fff"},{"offset":0.9340,"color":"#000"},{"offset":0.9354,"color":"#000"},{"offset":0.9354,"color":"#fff"},
{"offset":0.9472,"color":"#fff"},{"offset":0.9472,"color":"#000"},{"offset":0.9486,"color":"#000"},{"offset":0.9486,"color":"#fff"},
{"offset":0.9604,"color":"#fff"},{"offset":0.9604,"color":"#000"},{"offset":0.9618,"color":"#000"},{"offset":0.9618,"color":"#fff"},
{"offset":0.9736,"color":"#fff"},{"offset":0.9736,"color":"#000"},{"offset":0.9750,"color":"#000"},{"offset":0.9750,"color":"#fff"},
{"offset":0.9868,"color":"#fff"},{"offset":0.9868,"color":"#000"},{"offset":0.9882,"color":"#000"},{"offset":0.9882,"color":"#fff"},
{"offset":1,"color":"#fff"}]}},
 "encoding":{
  "x":{"field":"E","type":"quantitative"},
  "y":{"field":"V","type":"quantitative"}}},
{"data":{"name":"au"},
 "mark":{"type":"area","fill":"#fcec55"},
 "encoding":{
  "x":{"field":"E","type":"quantitative"},
  "y":{"field":"V","type":"quantitative"}}},
{"data":{"name":"au"},
 "mark":{"type":"line","stroke":"#ffe600","strokeWidth":3,"strokeJoin":"round"},
 "encoding":{
  "x":{"field":"E","type":"quantitative"},
  "y":{"field":"V","type":"quantitative"}}},
{"data":{"name":"step"},
 "mark":{"type":"line","stroke":"#ffe600","strokeWidth":3},
 "encoding":{
  "x":{"field":"E","type":"quantitative"},
  "y":{"field":"V","type":"quantitative"},
  "order":{"field":"o","type":"quantitative"}}},
{"data":{"name":"nexafs"},
 "mark":{"type":"line","stroke":"black","strokeWidth":2.8,"strokeJoin":"round"},
 "encoding":{
  "x":{"field":"E","type":"quantitative"},
  "y":{"field":"V","type":"quantitative"}}},
{"data":{"name":"vlines"},
 "mark":{"type":"rule","stroke":"black","strokeWidth":1.6},
 "encoding":{"x":{"field":"E","type":"quantitative"}}},
{"data":{"name":"fermi"},
 "mark":{"type":"rule","stroke":"black","strokeWidth":1.6,"strokeDash":[5,4]},
 "encoding":{"x":{"field":"E","type":"quantitative"}}},
{"data":{"name":"arrow"},
 "mark":{"type":"rule","stroke":"black","strokeWidth":2},
 "encoding":{"x":{"field":"E","type":"quantitative"},"x2":{"field":"E2"},"y":{"field":"V","type":"quantitative"}}},
{"data":{"name":"headL"},
 "mark":{"type":"point","shape":"M0,0L2,-0.6L2,0.6Z","filled":true,"size":169,"color":"black","opacity":1,"strokeWidth":0},
 "encoding":{"x":{"field":"E","type":"quantitative"},"y":{"field":"V","type":"quantitative"}}},
{"data":{"name":"headR"},
 "mark":{"type":"point","shape":"M0,0L-2,-0.6L-2,0.6Z","filled":true,"size":169,"color":"black","opacity":1,"strokeWidth":0},
 "encoding":{"x":{"field":"E","type":"quantitative"},"y":{"field":"V","type":"quantitative"}}},
{"data":{"name":"note"},
 "mark":{"type":"text","angle":90,"align":"center","baseline":"alphabetic","fontSize":32.5,"fontWeight":300,"font":"Roboto","color":"black"},
 "encoding":{"x":{"field":"E","type":"quantitative"},"y":{"field":"V","type":"quantitative"},"text":{"field":"t"}}},
{"data":{"name":"legend"},
 "mark":{"type":"text","align":"left","baseline":"alphabetic","fontSize":30.5,"fontWeight":300,"font":"Roboto","color":"black"},
 "encoding":{"x":{"field":"E","type":"quantitative"},"y":{"field":"V","type":"quantitative"},"text":{"field":"t"}}},
{"data":{"name":"swAu"},
 "mark":{"type":"rect","fill":"#ffe600","cornerRadius":2},
 "encoding":{"x":{"field":"E","type":"quantitative"},"x2":{"field":"E2"},"y":{"field":"V","type":"quantitative"},"y2":{"field":"V2"}}},
{"data":{"name":"swLow"},
 "mark":{"type":"rect","stroke":"black","strokeWidth":2.5,"cornerRadius":2,
  "fill":{"gradient":"linear","x1":0,"y1":0,"x2":1,"y2":1,"stops":[{"offset":0,"color":"#fff"},{"offset":0.45,"color":"#fff"},{"offset":0.45,"color":"#000"},{"offset":0.55,"color":"#000"},{"offset":0.55,"color":"#fff"},{"offset":1,"color":"#fff"}]}},
 "encoding":{"x":{"field":"E","type":"quantitative"},"x2":{"field":"E2"},"y":{"field":"V","type":"quantitative"},"y2":{"field":"V2"}}},
{"data":{"name":"swHigh"},
 "mark":{"type":"rect","stroke":"black","strokeWidth":2.5,"cornerRadius":2,
  "fill":{"gradient":"linear","x1":0,"y1":1,"x2":1,"y2":0,"stops":[{"offset":0,"color":"#fff"},{"offset":0.3,"color":"#fff"},{"offset":0.3,"color":"#000"},{"offset":0.39,"color":"#000"},{"offset":0.39,"color":"#fff"},{"offset":0.61,"color":"#fff"},{"offset":0.61,"color":"#000"},{"offset":0.7,"color":"#000"},{"offset":0.7,"color":"#fff"},{"offset":1,"color":"#fff"}]}},
 "encoding":{"x":{"field":"E","type":"quantitative"},"x2":{"field":"E2"},"y":{"field":"V","type":"quantitative"},"y2":{"field":"V2"}}},
{"data":{"name":"legLine"},
 "mark":{"type":"rule","stroke":"black","strokeWidth":2.5},
 "encoding":{"x":{"field":"E","type":"quantitative"},"x2":{"field":"E2"},"y":{"field":"V","type":"quantitative"}}},
{"data":{"name":"frame"},
 "mark":{"type":"rule","stroke":"black","strokeWidth":2},
 "encoding":{"y":{"field":"V","type":"quantitative"}}}
]
}
